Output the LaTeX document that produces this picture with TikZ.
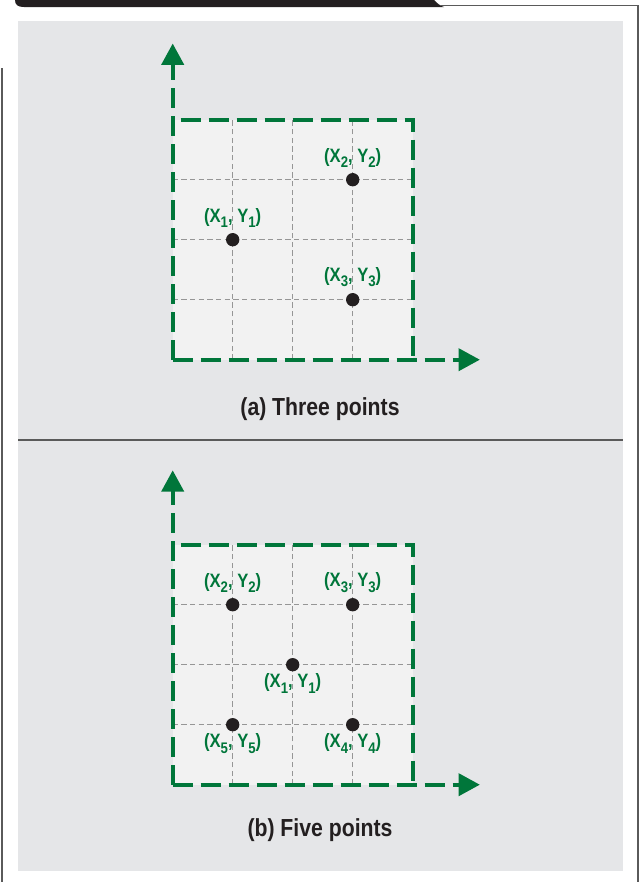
\documentclass[tikz,border=0pt]{standalone}
\usepackage{fontspec}
\setmainfont{Liberation Sans}[FakeStretch=0.86]
\usetikzlibrary{arrows.meta, positioning}
\definecolor{ptgreen}{RGB}{0, 118, 58}
\definecolor{panelgray}{RGB}{229, 230, 232}
\definecolor{plotfill}{RGB}{242, 242, 242}
\definecolor{gridgray}{RGB}{150, 150, 150}
\definecolor{rulegray}{RGB}{90, 90, 90}
\definecolor{dotblack}{RGB}{35, 31, 32}
\newcommand{\lbsub}[1]{\raisebox{-0.5ex}{\fontsize{11.5}{12}\selectfont #1}}
\newcommand{\ptxy}[1]{(X\lbsub{#1}, Y\lbsub{#1})}
\tikzset{
  gridline/.style={gridgray, line width=0.85pt, dash pattern=on 4pt off 2.5pt},
  boxline/.style={ptgreen, line width=3pt, dash pattern=on 15pt off 6pt, dash phase=15pt},
  axisline/.style={ptgreen, line width=3pt, dash pattern=on 15pt off 6pt, -{Triangle[length=16pt, width=16.5pt]}},
  dot/.style={circle, fill=dotblack, inner sep=0pt, minimum size=10pt},
  ptlabel/.style={text=ptgreen, font=\bfseries\fontsize{14.5}{16}\selectfont, inner sep=0pt},
  caption/.style={text=dotblack, font=\bfseries\fontsize{18.5}{20}\selectfont, inner sep=0pt}
}

\begin{document}
\begin{tikzpicture}[x=0.75pt, y=-0.75pt]
  \useasboundingbox (0,0) rectangle (639,882);
  \fill[dotblack] (15,0) .. controls (15,5) and (18,7) .. (24,7) -- (444,7) .. controls (440,6) and (437,3) .. (434,0) -- cycle;
  \draw[rulegray, line width=0.9pt] (440,5.8) -- (638,5.8) -- (638,882);
  \draw[rulegray, line width=1.5pt] (2,68) -- (2,882);
  \fill[panelgray] (18,21) rectangle (623,871);
  \draw[rulegray, line width=1.3pt] (18,440) -- (623,440);

  \begin{scope}[shift={(172.7,359.7)}, x=45pt, y=45pt]
    \fill[plotfill] (0,0) rectangle (4,4);
    \foreach \i in {1,2,3} {
      \draw[gridline] (\i,0) -- (\i,4);
      \draw[gridline] (0,\i) -- (4,\i);
    }
    \draw[boxline] (0,4) -- (4,4) -- (4,0);
    \draw[axisline] (0,0) -- (0,5.27);
    \draw[axisline] (0,0) -- (5.12,0);
    \node[dot] (a1) at (1,2) {};
    \node[dot] (a2) at (3,3) {};
    \node[dot] (a3) at (3,1) {};
    \node[ptlabel, above=4pt of a1] (a1l) {\ptxy{1}};
    \node[ptlabel, above=4pt of a2] (a2l) {\ptxy{2}};
    \node[ptlabel, above=4pt of a3] (a3l) {\ptxy{3}};
  \end{scope}
  \node[caption] (capa) at (320,409) {(a) Three points};

  \begin{scope}[shift={(172.7,784.7)}, x=45pt, y=45pt]
    \fill[plotfill] (0,0) rectangle (4,4);
    \foreach \i in {1,2,3} {
      \draw[gridline] (\i,0) -- (\i,4);
      \draw[gridline] (0,\i) -- (4,\i);
    }
    \draw[boxline] (0,4) -- (4,4) -- (4,0);
    \draw[axisline] (0,0) -- (0,5.24);
    \draw[axisline] (0,0) -- (5.12,0);
    \node[dot] (b1) at (2,2) {};
    \node[dot] (b2) at (1,3) {};
    \node[dot] (b3) at (3,3) {};
    \node[dot] (b4) at (3,1) {};
    \node[dot] (b5) at (1,1) {};
    \node[ptlabel, below=1.5pt of b1] (b1l) {\ptxy{1}};
    \node[ptlabel, above=4pt of b2] (b2l) {\ptxy{2}};
    \node[ptlabel, above=4pt of b3] (b3l) {\ptxy{3}};
    \node[ptlabel, below=1.5pt of b4] (b4l) {\ptxy{4}};
    \node[ptlabel, below=1.5pt of b5] (b5l) {\ptxy{5}};
  \end{scope}
  \node[caption] (capb) at (320,830) {(b) Five points};
\end{tikzpicture}
\end{document}
